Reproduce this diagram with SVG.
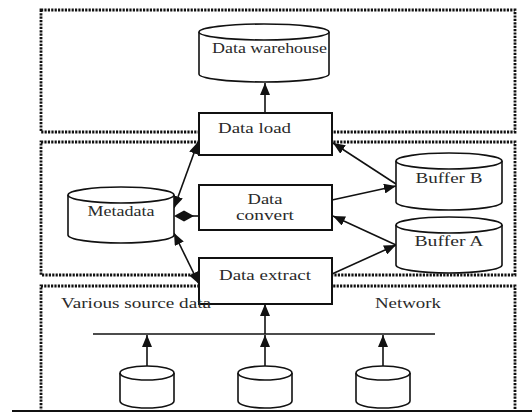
<svg xmlns="http://www.w3.org/2000/svg" width="532" height="412" viewBox="0 0 532 412">
<defs>
<marker id="ah" markerUnits="userSpaceOnUse" markerWidth="12" markerHeight="10" refX="12" refY="5" orient="auto-start-reverse">
<path d="M0,0 L12,5 L0,10 z" fill="#111"/>
</marker>
</defs>
<style>
.zone{fill:none;stroke:#111;stroke-width:2.8;stroke-dasharray:2.2 1.2}
.box{fill:#fff;stroke:#111;stroke-width:2}
.cyl{fill:#fff;stroke:#111;stroke-width:1.6}
.lbl{font-family:"Liberation Serif","Times New Roman",serif;font-size:15px;fill:#2a2a2a}
.c{text-anchor:middle}
.con{fill:none;stroke:#111;stroke-width:1.6}
</style>
<rect width="532" height="412" fill="#fff"/>
<g id="zones">
<rect class="zone" x="41" y="10" width="474" height="122"/>
<rect class="zone" x="41" y="142" width="474" height="133"/>
<path class="zone" d="M41,412 V286 H515 V412"/>
</g>
<g id="connectors">
<line class="con" x1="265" y1="113" x2="265" y2="83" marker-end="url(#ah)"/>
<line class="con" x1="174" y1="208" x2="198" y2="142" marker-start="url(#ah)" marker-end="url(#ah)"/>
<line class="con" x1="174" y1="233" x2="199" y2="284" marker-start="url(#ah)" marker-end="url(#ah)"/>
<line class="con" x1="190" y1="216" x2="199" y2="216"/>
<polygon points="174,216 184,210.5 194,216 184,221.5" fill="#111"/>
<line class="con" x1="396" y1="184" x2="333" y2="143" marker-end="url(#ah)"/>
<line class="con" x1="332" y1="200" x2="396" y2="186" marker-end="url(#ah)"/>
<line class="con" x1="396" y1="245" x2="333" y2="216" marker-end="url(#ah)"/>
<line class="con" x1="332" y1="274" x2="396" y2="245" marker-end="url(#ah)"/>
<line class="con" x1="265" y1="334" x2="265" y2="304" marker-end="url(#ah)"/>
<line class="con" x1="93" y1="334" x2="435" y2="334"/>
<line class="con" x1="147" y1="366" x2="147" y2="335" marker-end="url(#ah)"/>
<line class="con" x1="265" y1="366" x2="265" y2="335" marker-end="url(#ah)"/>
<line class="con" x1="383" y1="366" x2="383" y2="335" marker-end="url(#ah)"/>
</g>
<g id="warehouse">
<path class="cyl" d="M199,32 V74 A65,8 0 0 0 329,74 V32"/>
<ellipse class="cyl" cx="264" cy="32" rx="65" ry="8"/>
<text class="lbl" x="212" y="53" textLength="115" lengthAdjust="spacingAndGlyphs">Data warehouse</text>
</g>
<g id="load">
<rect class="box" x="199" y="113" width="133" height="42"/>
<text class="lbl" x="218" y="133" textLength="73" lengthAdjust="spacingAndGlyphs">Data load</text>
</g>
<g id="convert">
<rect class="box" x="199" y="185" width="133" height="45"/>
<text class="lbl c" x="265" y="204" textLength="35" lengthAdjust="spacingAndGlyphs">Data</text>
<text class="lbl c" x="265" y="220" textLength="58" lengthAdjust="spacingAndGlyphs">convert</text>
</g>
<g id="extract">
<rect class="box" x="199" y="258" width="133" height="46"/>
<text class="lbl c" x="265" y="280" textLength="92" lengthAdjust="spacingAndGlyphs">Data extract</text>
</g>
<g id="metadata">
<path class="cyl" d="M68,195 V235 A53,8 0 0 0 174,235 V195"/>
<ellipse class="cyl" cx="121" cy="195" rx="53" ry="8"/>
<text class="lbl c" x="121" y="216" textLength="67" lengthAdjust="spacingAndGlyphs">Metadata</text>
</g>
<g id="bufferB">
<path class="cyl" d="M396,161 V202 A53,8 0 0 0 502,202 V161"/>
<ellipse class="cyl" cx="449" cy="161" rx="53" ry="8"/>
<text class="lbl c" x="449" y="183" textLength="67" lengthAdjust="spacingAndGlyphs">Buffer B</text>
</g>
<g id="bufferA">
<path class="cyl" d="M396,225 V265 A53,8 0 0 0 502,265 V225"/>
<ellipse class="cyl" cx="449" cy="225" rx="53" ry="8"/>
<text class="lbl c" x="449" y="246" textLength="69" lengthAdjust="spacingAndGlyphs">Buffer A</text>
</g>
<g id="src1">
<path class="cyl" d="M120,373 V401 A27,7 0 0 0 174,401 V373"/>
<ellipse class="cyl" cx="147" cy="373" rx="27" ry="7"/>
</g>
<g id="src2">
<path class="cyl" d="M238,373 V401 A27,7 0 0 0 292,401 V373"/>
<ellipse class="cyl" cx="265" cy="373" rx="27" ry="7"/>
</g>
<g id="src3">
<path class="cyl" d="M356,373 V401 A27,7 0 0 0 410,401 V373"/>
<ellipse class="cyl" cx="383" cy="373" rx="27" ry="7"/>
</g>
<g id="labels">
<text class="lbl" x="61" y="308" textLength="150" lengthAdjust="spacingAndGlyphs">Various source data</text>
<text class="lbl" x="375" y="308" textLength="66" lengthAdjust="spacingAndGlyphs">Network</text>
</g>
<line x1="12" y1="411" x2="532" y2="411" stroke="#111" stroke-width="2"/>
</svg>
